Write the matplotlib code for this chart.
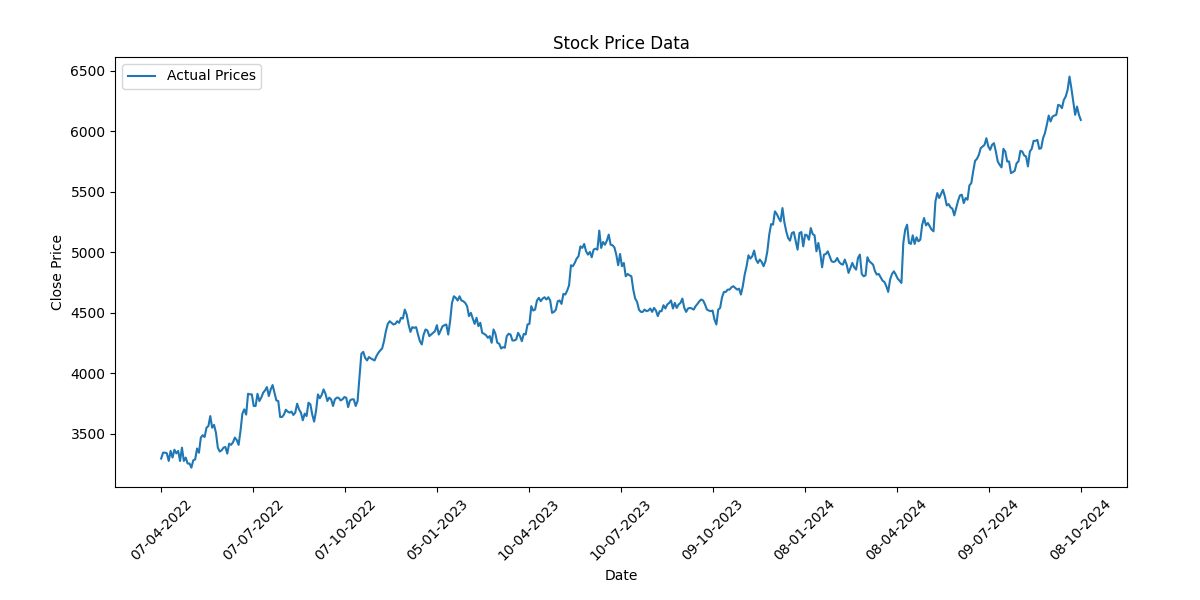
import matplotlib
matplotlib.use("Agg")
import matplotlib.pyplot as plt
import numpy as np

# Close prices, in trading-day order
close_prices = [
    3297, 3346, 3346, 3340, 3277, 3360, 3305, 3370, 3340, 3360,
    3277, 3387, 3277, 3305, 3256, 3256, 3222, 3283, 3290, 3380,
    3345, 3470, 3490, 3475, 3552, 3565, 3648, 3552, 3575, 3510,
    3387, 3355, 3365, 3387, 3393, 3338, 3420, 3410, 3430, 3470,
    3450, 3410, 3525, 3668, 3703, 3660, 3832, 3827, 3827, 3731,
    3731, 3832, 3772, 3800, 3840, 3860, 3887, 3813, 3868, 3904,
    3840, 3777, 3772, 3640, 3640, 3660, 3700, 3685, 3676, 3685,
    3657, 3676, 3750, 3703, 3676, 3613, 3668, 3648, 3758, 3745,
    3660, 3602, 3690, 3827, 3795, 3822, 3868, 3832, 3772, 3800,
    3786, 3731, 3786, 3800,
    3799, 3777, 3786, 3805, 3799, 3722, 3777, 3786, 3786, 3731,
    3772, 3964, 4162, 4178, 4129, 4107, 4135, 4124, 4115, 4107,
    4143, 4170, 4190, 4206, 4266, 4349, 4409, 4431, 4418, 4404,
    4409, 4431, 4418, 4459, 4453, 4527, 4486, 4404, 4343, 4382,
    4376, 4382, 4321, 4266, 4239, 4321, 4363, 4354, 4308, 4321,
    4335, 4349, 4398, 4321, 4354, 4390, 4398, 4404, 4321, 4431,
    4582, 4637, 4624, 4602, 4637, 4602, 4596, 4582, 4555, 4473,
    4500, 4453, 4409, 4459, 4390, 4418, 4335, 4327, 4316, 4294,
    4308, 4253, 4363, 4327, 4253, 4245, 4206, 4217, 4212, 4308,
    4327, 4321, 4272, 4272, 4280, 4335, 4308, 4266, 4327,
    4321, 4404, 4409, 4555, 4519, 4527, 4602, 4624, 4596, 4618,
    4629, 4610, 4629, 4602, 4500, 4508, 4527, 4596, 4602, 4574,
    4657, 4651, 4684, 4728, 4893, 4885, 4912, 4948, 4967, 5049,
    5036, 5069, 5008, 4981, 5003, 4959, 5022, 5030, 5022, 5179,
    5036, 5085, 5063, 5096, 5146, 5063, 5058, 5041, 4981, 4893,
    4986, 4885, 4912, 4802, 4821, 4810, 4802, 4692, 4618, 4591,
    4527, 4508, 4508, 4527, 4514, 4519, 4536, 4508, 4541, 4519,
    4473, 4514, 4514, 4563, 4536, 4569, 4582, 4602, 4536, 4582,
    4541, 4569, 4582, 4618, 4541, 4508, 4536, 4541, 4536, 4527,
    4555, 4574, 4596, 4610, 4602, 4569, 4527, 4519, 4514,
    4519, 4445, 4404, 4527, 4541, 4629, 4673, 4673, 4692, 4692,
    4711, 4720, 4706, 4692, 4700, 4651, 4720, 4816, 4885, 4975,
    4948, 4967, 5014, 4940, 4912, 4940, 4920, 4885, 4926, 5008,
    5146, 5233, 5228, 5338, 5316, 5283, 5255, 5365, 5250, 5173,
    5118, 5096, 5159, 5167, 5096, 5022, 5159, 5167, 5049, 5146,
    5140, 5104, 5200, 5151, 5140, 5008, 5077, 4994, 4876, 4981,
    4986, 5008, 4967, 4926, 4920, 4926, 4953, 4920, 4904, 4898,
    4940, 4898, 4830, 4871, 4912, 4876, 4857, 4953, 4981, 4821,
    4802, 4810, 4959, 4926, 4912, 4898, 4843, 4816, 4821, 4794,
    4766, 4755, 4720, 4673, 4775, 4821, 4843, 4816, 4783, 4766,
    4747,
    5077, 5187, 5228, 5077, 5069, 5140, 5069, 5124, 5091, 5104,
    5228, 5283, 5222, 5242, 5214, 5187, 5173, 5420, 5489, 5448,
    5481, 5516, 5461, 5387, 5398, 5371, 5360, 5305, 5365, 5426,
    5470, 5475, 5406, 5448, 5434, 5552, 5571, 5668, 5755, 5772,
    5805, 5860, 5874, 5887, 5942, 5874, 5846, 5887, 5901, 5832,
    5750, 5723, 5701, 5854, 5832, 5750, 5750, 5654, 5662, 5673,
    5736, 5750, 5838, 5832, 5800, 5791, 5709, 5832, 5854, 5920,
    5920, 5928, 5854, 5860, 5942, 5984, 6052, 6129, 6080, 6121,
    6129, 6135, 6217, 6212, 6190, 6258, 6286, 6341, 6451, 6354,
    6245, 6135, 6203, 6135, 6093,
]

tick_labels = [
    "07-04-2022", "07-07-2022", "07-10-2022", "05-01-2023",
    "10-04-2023", "10-07-2023", "09-10-2023", "08-01-2024",
    "08-04-2024", "09-07-2024", "08-10-2024",
]

x = np.arange(len(close_prices))
tick_pos = np.linspace(0, len(close_prices) - 1, len(tick_labels))

fig, ax = plt.subplots(figsize=(12, 6), dpi=100)
fig.subplots_adjust(left=0.096, right=0.939, top=0.905, bottom=0.188)
ax.plot(x, close_prices, label="Actual Prices")
ax.set_xticks(tick_pos)
ax.set_xticklabels(tick_labels, rotation=45)
ax.set_title("Stock Price Data")
ax.set_xlabel("Date")
ax.set_ylabel("Close Price")
ax.legend(loc="upper left")

plt.savefig("out.png", dpi=100)
